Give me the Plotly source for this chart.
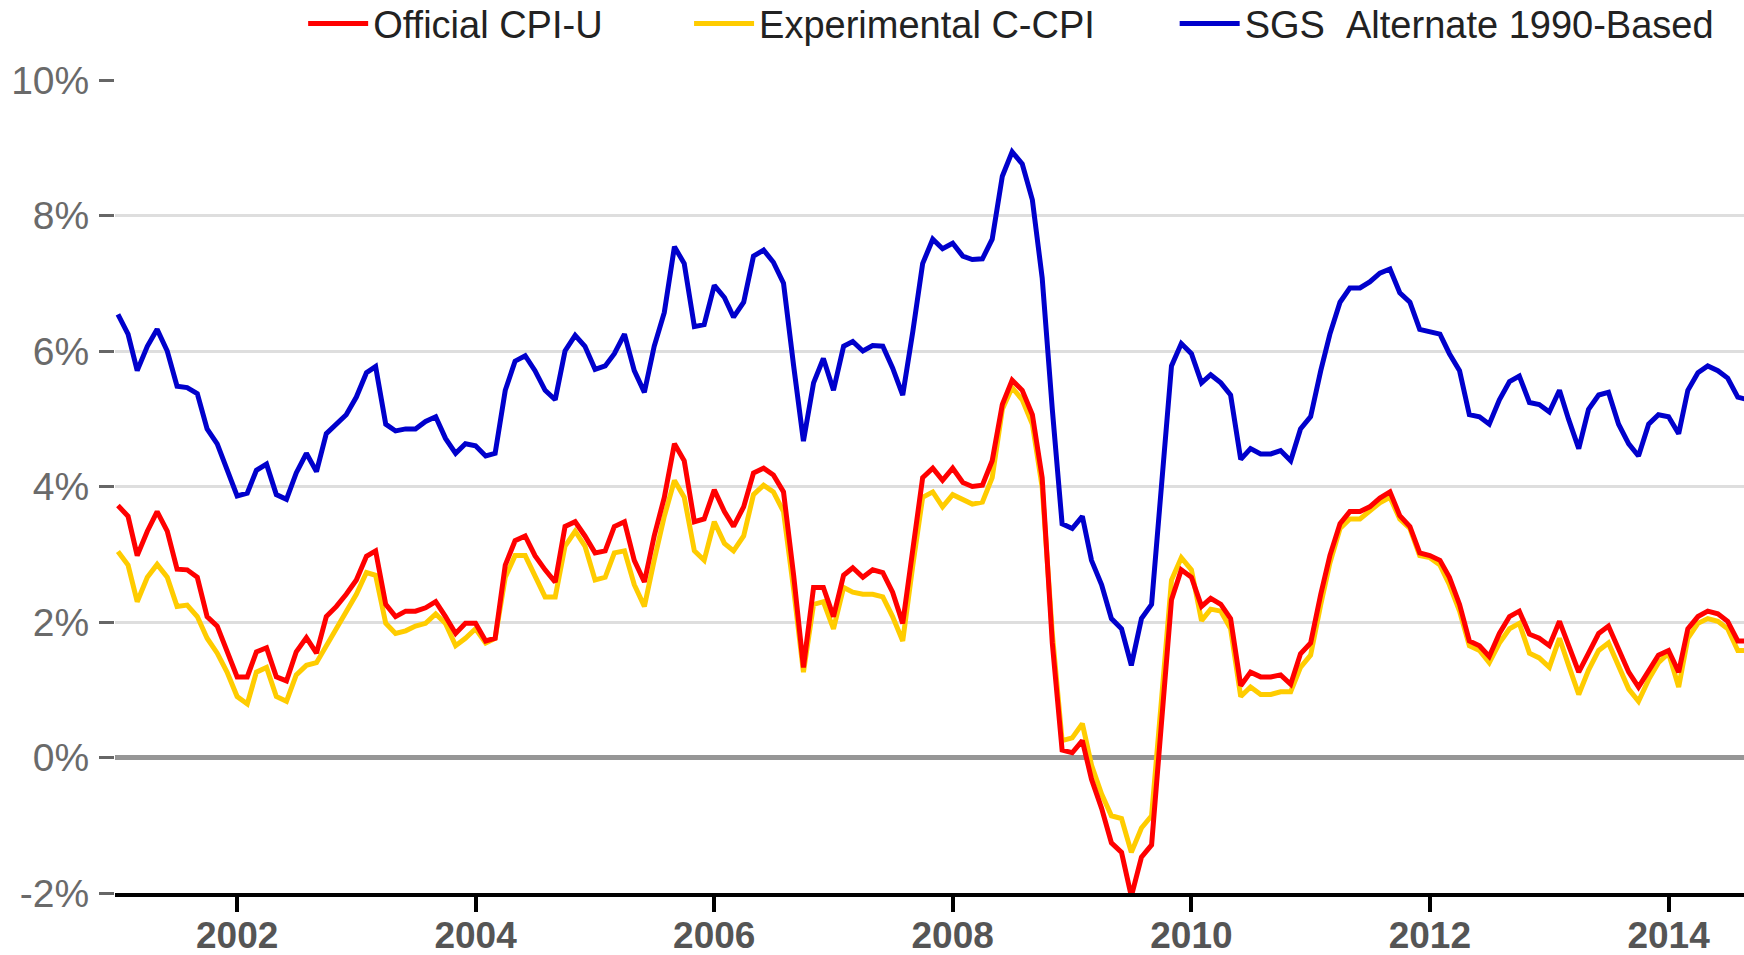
import pandas as pd
import plotly.graph_objects as go

# Year-over-year inflation (%), monthly from Jan 2001
official_cpi_u = [
    3.72, 3.56, 2.98, 3.34, 3.63, 3.34, 2.78, 2.77, 2.66, 2.08, 1.94, 1.58,
    1.19, 1.19, 1.56, 1.62, 1.19, 1.13, 1.56, 1.77, 1.54, 2.08, 2.23, 2.41,
    2.62, 2.97, 3.05, 2.26, 2.08, 2.16, 2.16, 2.21, 2.30, 2.08, 1.83, 1.98,
    1.98, 1.72, 1.76, 2.84, 3.20, 3.27, 2.98, 2.77, 2.59, 3.41, 3.48, 3.27,
    3.02, 3.05, 3.41, 3.48, 2.91, 2.59, 3.27, 3.84, 4.63, 4.38, 3.48, 3.52,
    3.95, 3.63, 3.41, 3.70, 4.20, 4.27, 4.17, 3.92, 2.69, 1.33, 2.51, 2.51,
    2.08, 2.69, 2.80, 2.66, 2.77, 2.73, 2.44, 1.98, 3.12, 4.13, 4.27, 4.09,
    4.27, 4.06, 4.00, 4.02, 4.38, 5.21, 5.57, 5.42, 5.06, 4.13, 1.69, 0.11,
    0.07, 0.25, -0.32, -0.75, -1.26, -1.40, -2.05, -1.47, -1.29, 0.47, 2.33, 2.77,
    2.66, 2.23, 2.35, 2.26, 2.05, 1.06, 1.26, 1.19, 1.19, 1.22, 1.08, 1.53,
    1.69, 2.41, 2.98, 3.45, 3.63, 3.63, 3.70, 3.83, 3.92, 3.57, 3.41, 3.02,
    2.98, 2.91, 2.66, 2.26, 1.72, 1.65, 1.49, 1.83, 2.08, 2.16, 1.82, 1.76,
    1.65, 2.01, 1.65, 1.26, 1.54, 1.83, 1.94, 1.62, 1.26, 1.04, 1.29, 1.51,
    1.58, 1.26, 1.90, 2.08, 2.16, 2.12, 2.01, 1.72, 1.72,
]

experimental_c_cpi = [
    3.04, 2.84, 2.30, 2.66, 2.85, 2.66, 2.23, 2.25, 2.08, 1.76, 1.54, 1.26,
    0.90, 0.79, 1.26, 1.33, 0.90, 0.83, 1.22, 1.36, 1.40, 1.65, 1.90, 2.16,
    2.41, 2.73, 2.69, 1.98, 1.83, 1.87, 1.94, 1.98, 2.12, 1.98, 1.65, 1.76,
    1.90, 1.69, 1.76, 2.66, 2.98, 2.98, 2.69, 2.37, 2.37, 3.12, 3.34, 3.12,
    2.62, 2.66, 3.02, 3.05, 2.55, 2.23, 2.91, 3.56, 4.09, 3.84, 3.05, 2.91,
    3.48, 3.16, 3.05, 3.27, 3.88, 4.02, 3.92, 3.63, 2.48, 1.26, 2.26, 2.30,
    1.90, 2.51, 2.44, 2.41, 2.41, 2.37, 2.08, 1.72, 2.84, 3.84, 3.92, 3.70,
    3.88, 3.81, 3.74, 3.77, 4.13, 5.14, 5.46, 5.28, 4.92, 3.99, 1.83, 0.25,
    0.29, 0.50, -0.11, -0.54, -0.86, -0.90, -1.40, -1.04, -0.86, 0.83, 2.62, 2.95,
    2.77, 2.02, 2.19, 2.16, 1.90, 0.90, 1.04, 0.93, 0.93, 0.97, 0.97, 1.33,
    1.51, 2.26, 2.87, 3.38, 3.52, 3.52, 3.63, 3.76, 3.84, 3.52, 3.38, 2.98,
    2.95, 2.84, 2.55, 2.16, 1.65, 1.58, 1.40, 1.69, 1.90, 1.98, 1.54, 1.47,
    1.33, 1.76, 1.36, 0.93, 1.29, 1.58, 1.69, 1.36, 1.01, 0.83, 1.15, 1.40,
    1.54, 1.04, 1.76, 1.98, 2.05, 2.01, 1.90, 1.58, 1.58,
]

sgs_alternate_1990 = [
    6.54, 6.25, 5.71, 6.07, 6.32, 6.00, 5.48, 5.46, 5.37, 4.85, 4.63, 4.27,
    3.86, 3.90, 4.24, 4.33, 3.88, 3.81, 4.20, 4.49, 4.22, 4.78, 4.92, 5.06,
    5.32, 5.68, 5.77, 4.92, 4.82, 4.85, 4.85, 4.96, 5.03, 4.71, 4.49, 4.63,
    4.60, 4.45, 4.49, 5.42, 5.85, 5.93, 5.71, 5.42, 5.28, 6.00, 6.23, 6.07,
    5.73, 5.78, 5.96, 6.25, 5.71, 5.39, 6.07, 6.57, 7.54, 7.29, 6.36, 6.39,
    6.97, 6.79, 6.50, 6.72, 7.40, 7.49, 7.31, 7.00, 5.78, 4.67, 5.53, 5.89,
    5.42, 6.07, 6.14, 6.00, 6.08, 6.07, 5.75, 5.35, 6.29, 7.29, 7.65, 7.51,
    7.59, 7.40, 7.35, 7.36, 7.65, 8.58, 8.94, 8.76, 8.23, 7.08, 5.14, 3.45,
    3.38, 3.56, 2.91, 2.55, 2.05, 1.90, 1.36, 2.05, 2.26, 3.92, 5.78, 6.11,
    5.96, 5.53, 5.65, 5.53, 5.35, 4.40, 4.56, 4.48, 4.48, 4.53, 4.38, 4.85,
    5.03, 5.71, 6.25, 6.72, 6.93, 6.93, 7.02, 7.15, 7.21, 6.86, 6.72, 6.32,
    6.29, 6.25, 5.96, 5.71, 5.06, 5.03, 4.92, 5.28, 5.55, 5.63, 5.24, 5.21,
    5.10, 5.42, 4.99, 4.56, 5.14, 5.35, 5.39, 4.92, 4.63, 4.45, 4.92, 5.06,
    5.03, 4.78, 5.42, 5.68, 5.78, 5.71, 5.60, 5.32, 5.28,
]

months = pd.date_range("2001-01-01", periods=len(official_cpi_u), freq="MS")

series_names = ["Official CPI-U", "Experimental C-CPI", "SGS\u00a0\u00a0Alternate 1990-Based"]
series_colors = ["#ff0000", "#ffcc00", "#0000cc"]

y_tick_values = [-2, 0, 2, 4, 6, 8, 10]
y_tick_labels = ["-2%", "0%", "2%", "4%", "6%", "8%", "10%"]

FONT = "Arial, Liberation Sans, sans-serif"

fig = go.Figure()
# draw yellow beneath red
fig.add_trace(go.Scatter(x=months, y=experimental_c_cpi, mode="lines", name=series_names[1],
                         line=dict(color=series_colors[1], width=5), legend="legend2",
                         showlegend=True))
fig.add_trace(go.Scatter(x=months, y=official_cpi_u, mode="lines", name=series_names[0],
                         line=dict(color=series_colors[0], width=5), legend="legend",
                         showlegend=True))
fig.add_trace(go.Scatter(x=months, y=sgs_alternate_1990, mode="lines", name=series_names[2],
                         line=dict(color=series_colors[2], width=5), legend="legend3",
                         showlegend=True))

leg_common = dict(orientation="h", yref="container", yanchor="middle", y=0.975,
                  xanchor="left",
                  font=dict(family=FONT, size=38, color="#222222"),
                  bgcolor="rgba(0,0,0,0)", itemwidth=60)

fig.update_layout(
    width=1744, height=955,
    showlegend=True,
    margin=dict(l=115, r=0, t=80, b=62, autoexpand=False),
    paper_bgcolor="white", plot_bgcolor="white",
    legend=dict(x=0.1155, **leg_common),
    legend2=dict(x=0.3524, **leg_common),
    legend3=dict(x=0.6505, **leg_common),
    xaxis=dict(
        type="date",
        automargin=False,
        range=["2000-12-23", "2014-08-20"],
        tick0="2002-01-01", dtick="M24", tickformat="%Y",
        showgrid=False, zeroline=False,
        showline=True, linecolor="black", linewidth=4,
        ticks="outside", ticklen=15, tickwidth=4, tickcolor="black",
        ticklabelstandoff=-8,
        tickfont=dict(family=FONT, size=37, color="#555555", weight="bold"),
    ),
    yaxis=dict(
        automargin=False,
        range=[-2, 10],
        tickmode="array", tickvals=y_tick_values, ticktext=y_tick_labels,
        showgrid=True, gridcolor="#dedede", gridwidth=3,
        zeroline=True, zerolinecolor="#969696", zerolinewidth=5,
        showline=False,
        ticks="outside", ticklen=15, tickwidth=3, tickcolor="#666666",
        ticklabelstandoff=2,
        tickfont=dict(family=FONT, size=39, color="#6a6a6a"),
    ),
)

fig.write_html("out.html", config={"displayModeBar": False},
               post_script="document.body.style.margin='0';")
